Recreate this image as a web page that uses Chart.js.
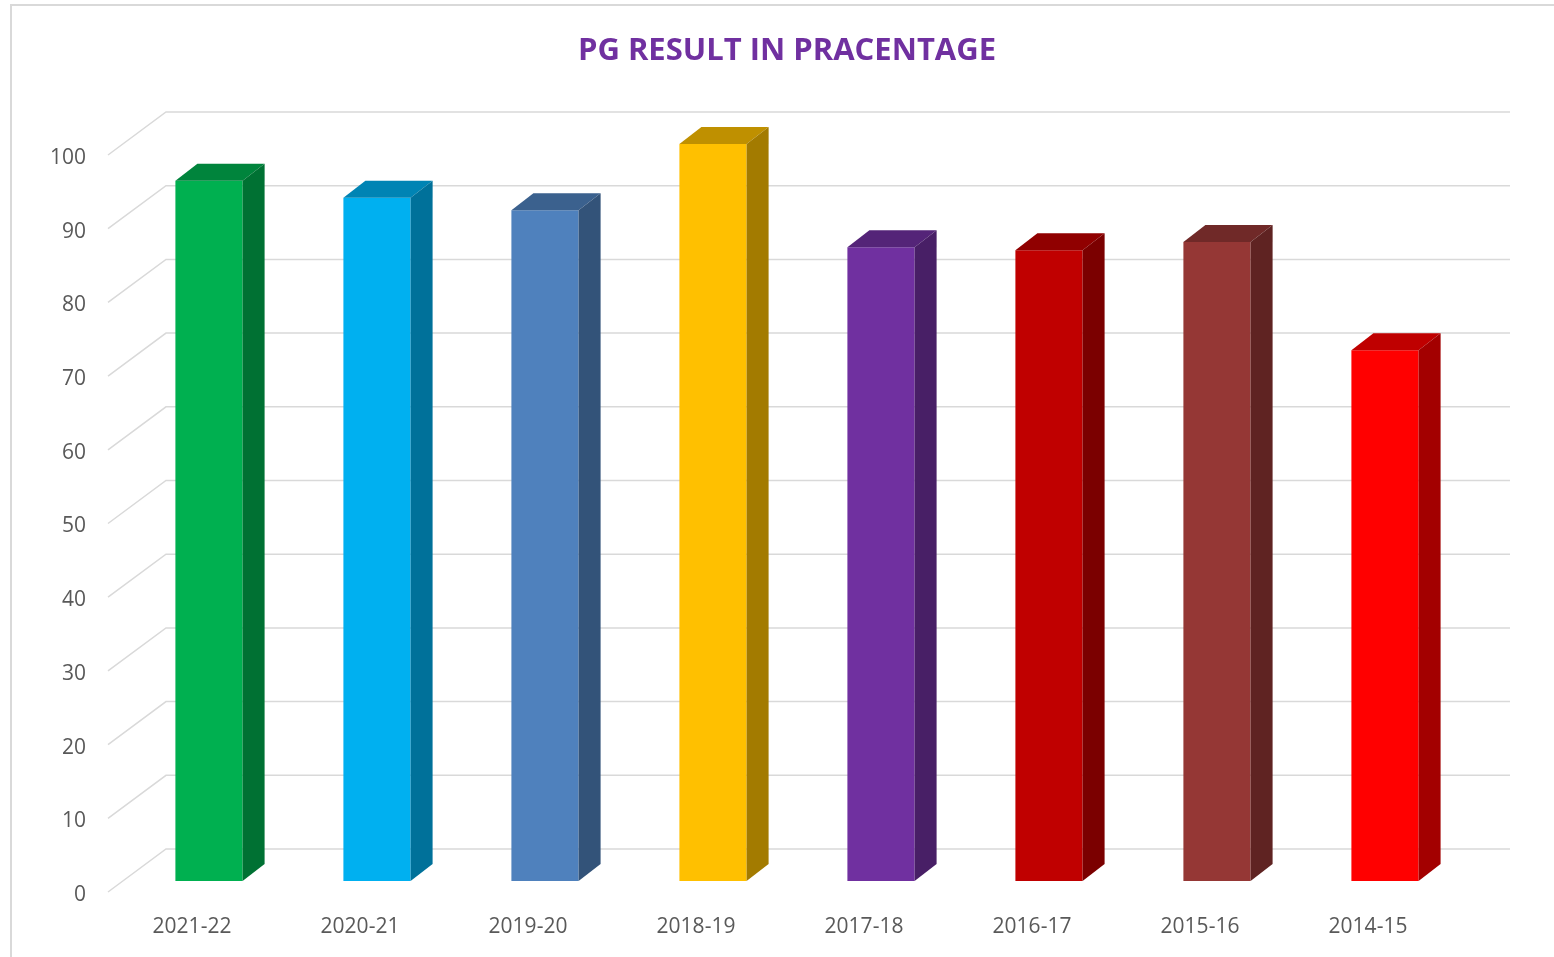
<!DOCTYPE html>
<html>
<head>
<meta charset="utf-8">
<script src="https://cdn.jsdelivr.net/npm/chart.js@4"></script>
<style>
  html, body { margin: 0; padding: 0; background: #fff; overflow: hidden; }
  #frame { position: absolute; left: 10px; top: 4px; width: 1600px; height: 1000px; border: 2px solid #d9d9d9; }
  #wrap { position: absolute; left: 11px; top: 5px; width: 1552px; height: 952px; }
</style>
</head>
<body>
<div id="frame"></div>
<div id="wrap"><canvas id="pgChart"></canvas></div>
<script>
// data
var titleText = "PG RESULT IN PRACENTAGE";
var years = ["2021-22", "2020-21", "2019-20", "2018-19", "2017-18", "2016-17", "2015-16", "2014-15"];
var results = [95, 92.7, 91, 100, 86, 85.6, 86.7, 72];
var yTicks = [0, 10, 20, 30, 40, 50, 60, 70, 80, 90, 100];

// front face colours, top/side are shaded from these
var barColors = ["#00B050", "#00B0F0", "#4F81BD", "#FFC000", "#7030A0", "#C00000", "#953735", "#FF0000"];

// 3d look: wall depth and bar depth (px)
var WALL_DX = 58, WALL_DY = 43;
var BAR_SHIFT_X = 17, BAR_SHIFT_Y = -11;
var BAR_DX = 22, BAR_DY = 17;

function shade(hex, f) {
    var n = parseInt(hex.slice(1), 16);
    var r = Math.round(((n >> 16) & 255) * f);
    var g = Math.round(((n >> 8) & 255) * f);
    var b = Math.round((n & 255) * f);
    return "rgb(" + r + "," + g + "," + b + ")";
}

var threeD = {
    id: 'threeD',
    beforeDatasetsDraw: function(chart) {
        var ctx = chart.ctx;
        var area = chart.chartArea;
        var y = chart.scales.y;
        ctx.save();
        ctx.strokeStyle = "#d9d9d9";
        ctx.lineWidth = 1.5;
        yTicks.forEach(function(v) {
            var py = y.getPixelForValue(v);
            ctx.beginPath();
            ctx.moveTo(area.left, py);
            ctx.lineTo(area.left + WALL_DX, py - WALL_DY);
            ctx.lineTo(area.right + WALL_DX, py - WALL_DY);
            ctx.stroke();
        });
        ctx.restore();
        // bars sit a little behind the front plane
        ctx.save();
        ctx.translate(BAR_SHIFT_X, BAR_SHIFT_Y);
    },
    afterDatasetsDraw: function(chart) {
        var ctx = chart.ctx;
        var meta = chart.getDatasetMeta(0);
        meta.data.forEach(function(bar, i) {
            var p = bar.getProps(['x', 'y', 'base', 'width'], true);
            var x0 = p.x - p.width / 2, x1 = p.x + p.width / 2;
            var col = barColors[i];
            // top
            ctx.fillStyle = shade(col, 0.75);
            ctx.beginPath();
            ctx.moveTo(x0, p.y);
            ctx.lineTo(x1, p.y);
            ctx.lineTo(x1 + BAR_DX, p.y - BAR_DY);
            ctx.lineTo(x0 + BAR_DX, p.y - BAR_DY);
            ctx.closePath();
            ctx.fill();
            // side
            ctx.fillStyle = shade(col, 0.64);
            ctx.beginPath();
            ctx.moveTo(x1, p.y);
            ctx.lineTo(x1 + BAR_DX, p.y - BAR_DY);
            ctx.lineTo(x1 + BAR_DX, p.base - BAR_DY);
            ctx.lineTo(x1, p.base);
            ctx.closePath();
            ctx.fill();
        });
        ctx.restore();
    },
    afterDraw: function(chart) {
        var ctx = chart.ctx;
        ctx.save();
        ctx.fillStyle = "#7030A0";
        ctx.font = "bold 31px 'Open Sans'";
        ctx.textAlign = "center";
        ctx.textBaseline = "middle";
        ctx.fillText(titleText, chart.width / 2, 46);
        ctx.restore();
    }
};

var ctx = document.getElementById("pgChart").getContext('2d');
var pgChart = new Chart(ctx, {
    type: 'bar',
    data: {
        labels: years,
        datasets: [{
            label: 'Result %',
            data: results,
            backgroundColor: barColors,
            borderWidth: 0,
            barPercentage: 0.4,
            categoryPercentage: 1.0,
            clip: false
        }]
    },
    options: {
        responsive: true,
        maintainAspectRatio: false,
        animation: false,
        layout: { padding: { left: 0, right: 111, top: 150, bottom: 0 } },
        plugins: {
            legend: { display: false },
            title: { display: false },
            tooltip: { enabled: false }
        },
        scales: {
            x: {
                grid: { display: false, drawTicks: false },
                border: { display: false },
                ticks: { color: "#595959", font: { family: "'Open Sans'", size: 21 }, padding: 22 },
                afterFit: function(scale) { scale.height = 65; }
            },
            y: {
                min: 0,
                max: 100,
                grid: { display: false, drawTicks: false },
                border: { display: false },
                ticks: { stepSize: 10, color: "#595959", font: { family: "'Open Sans'", size: 21 }, padding: 22, labelOffset: 3 },
                afterFit: function(scale) { scale.width = 97; }
            }
        }
    },
    plugins: [threeD]
});
</script>
</body>
</html>
